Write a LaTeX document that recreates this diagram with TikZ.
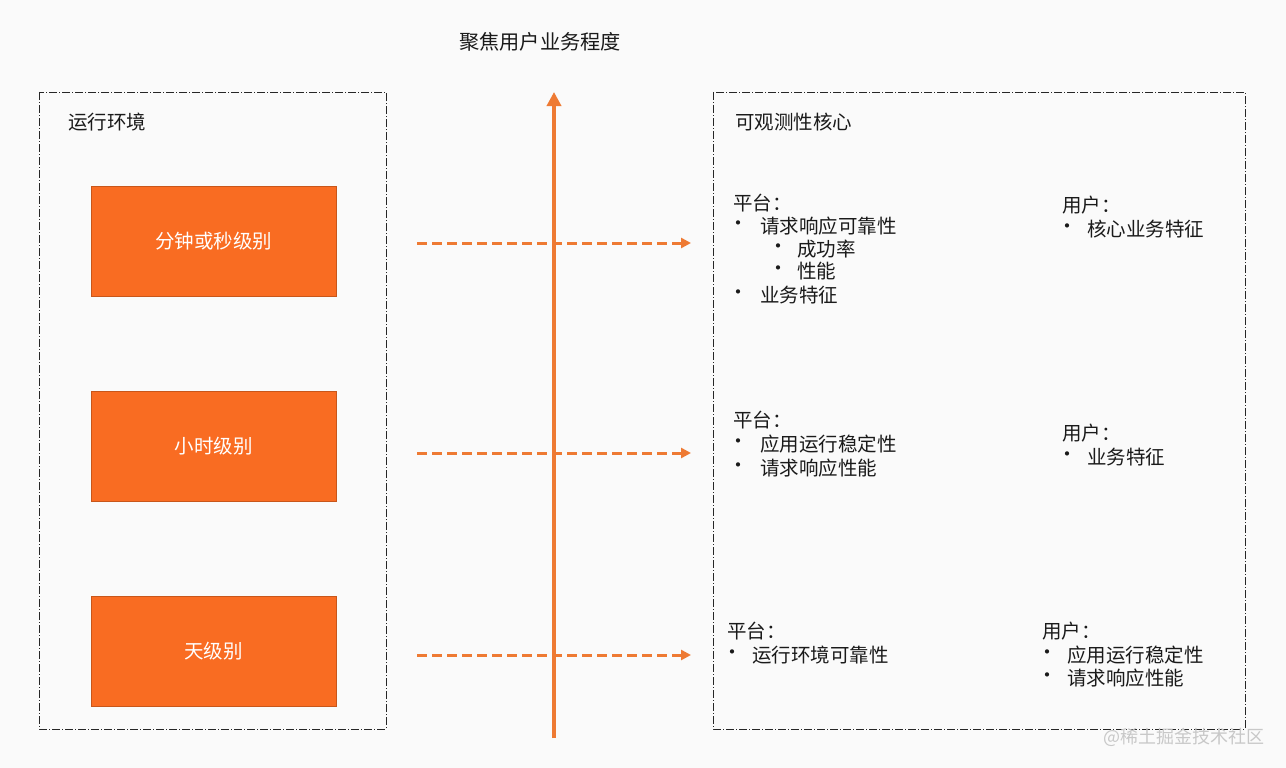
\documentclass[tikz,border=0pt]{standalone}
\usepackage{fontspec}
\newfontfamily\cjk{Noto Sans CJK SC}
\usetikzlibrary{arrows.meta}
\definecolor{bg}{HTML}{FAFAFA}
\definecolor{orangefill}{HTML}{F96C22}
\definecolor{orangeedge}{HTML}{C8561A}
\definecolor{arrowor}{HTML}{EE7A33}
\definecolor{txt}{HTML}{1A1A1A}
\definecolor{wm}{HTML}{C8C8C8}
\tikzset{
  framebox/.style={draw=black!85, line width=0.9pt, dash pattern=on 8pt off 2pt on 1pt off 2pt},
  levelbox/.style={draw=orangeedge, line width=0.8pt, fill=orangefill, minimum width=245pt, minimum height=110pt, text=white, font=\cjk\fontsize{19.5}{21}\selectfont, inner sep=0pt},
  lbl/.style={anchor=west, inner sep=0pt, text=txt, font=\cjk\fontsize{19.5}{21}\selectfont},
  dasharrow/.style={draw=arrowor, line width=3pt, dash pattern=on 10pt off 5pt, -{Triangle[length=10pt,width=10pt]}},
  mainarrow/.style={draw=arrowor, line width=4.5pt, -{Triangle[length=14pt,width=14pt]}},
  bul/.style={anchor=center, inner sep=0pt, text=txt, font=\cjk\fontsize{20}{22}\selectfont}
}
\begin{document}
\begin{tikzpicture}[x=1pt,y=-1pt]
\fill[bg] (0,0) rectangle (1286,768);
\useasboundingbox (0,0) rectangle (1286,768);
% frames
\draw[framebox] (39,92) rectangle (386,729);
\draw[framebox] (713,92) rectangle (1245,729);
% title
\node[lbl, anchor=center, font=\cjk\fontsize{20.2}{22}\selectfont] (title) at (540,42) {聚焦用户业务程度};
\node[lbl] (env) at (68,122) {运行环境};
\node[lbl] (core) at (735,122) {可观测性核心};
% level boxes
\node[levelbox] (l1) at (213.5,241) {分钟或秒级别};
\node[levelbox] (l2) at (213.5,446) {小时级别};
\node[levelbox] (l3) at (213.5,651) {天级别};
% main arrow
\coordinate (mbot) at (554,738);
\coordinate (mtop) at (554,92);
\draw[mainarrow] (mbot) -- (mtop);
% dashed arrows
\coordinate (a1s) at (417,243); \coordinate (a1e) at (691,243);
\coordinate (a2s) at (417,453); \coordinate (a2e) at (691,453);
\coordinate (a3s) at (417,655); \coordinate (a3e) at (691,655);
\draw[dasharrow] (a1s) -- (a1e);
\draw[dasharrow] (a2s) -- (a2e);
\draw[dasharrow] (a3s) -- (a3e);
% section 1
\node[lbl] (p1) at (733,203) {平台：};
\node[bul] (p1b1) at (738,226) {•};
\node[lbl] (p1t1) at (760,226) {请求响应可靠性};
\node[bul] (p1b2) at (778,249) {•};
\node[lbl] (p1t2) at (797,249) {成功率};
\node[bul] (p1b3) at (778,271) {•};
\node[lbl] (p1t3) at (797,271) {性能};
\node[bul] (p1b4) at (738,295) {•};
\node[lbl] (p1t4) at (760,295) {业务特征};
\node[lbl] (u1) at (1062,205) {用户：};
\node[bul] (u1b1) at (1067,229) {•};
\node[lbl] (u1t1) at (1087,229) {核心业务特征};
% section 2
\node[lbl] (p2) at (733,420) {平台：};
\node[bul] (p2b1) at (738,444) {•};
\node[lbl] (p2t1) at (760,444) {应用运行稳定性};
\node[bul] (p2b2) at (738,468) {•};
\node[lbl] (p2t2) at (760,468) {请求响应性能};
\node[lbl] (u2) at (1062,433) {用户：};
\node[bul] (u2b1) at (1067,457) {•};
\node[lbl] (u2t1) at (1087,457) {业务特征};
% section 3
\node[lbl] (p3) at (727,631) {平台：};
\node[bul] (p3b1) at (732,655) {•};
\node[lbl] (p3t1) at (752,655) {运行环境可靠性};
\node[lbl] (u3) at (1042,631) {用户：};
\node[bul] (u3b1) at (1047,655) {•};
\node[lbl] (u3t1) at (1067,655) {应用运行稳定性};
\node[bul] (u3b2) at (1047,678) {•};
\node[lbl] (u3t2) at (1067,678) {请求响应性能};
% watermark
\node[lbl, text=wm, font=\cjk\fontsize{18}{20}\selectfont] (wmark) at (1103,737) {@稀土掘金技术社区};
\end{tikzpicture}
\end{document}
